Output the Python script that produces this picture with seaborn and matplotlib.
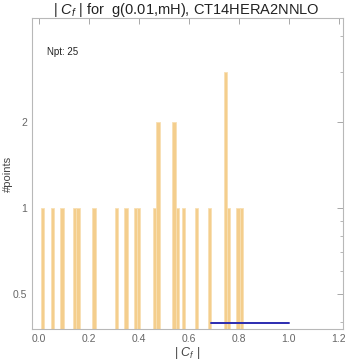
import numpy as np
import pandas as pd
import matplotlib
matplotlib.use("Agg")
import matplotlib.pyplot as plt
import seaborn as sns
from matplotlib.ticker import FixedLocator, NullFormatter

# ---- data ----
cf_values = [0.019, 0.056, 0.093, 0.138, 0.159, 0.222, 0.314, 0.350,
             0.386, 0.399, 0.458, 0.471, 0.471, 0.540, 0.540, 0.553,
             0.578, 0.634, 0.681, 0.744, 0.744, 0.744, 0.757, 0.791, 0.816]
blue_x = [0.69, 1.0]
blue_y = [0.395, 0.395]
yticks = [0.5, 1, 2]
ytick_labels = ["0.5", "1", "2"]
xticks = [0.0, 0.2, 0.4, 0.6, 0.8, 1.0, 1.2]
xtick_labels = ["0.0", "0.2", "0.4", "0.6", "0.8", "1.0", "1.2"]
title = "| $C_f$ | for  g(0.01,mH), CT14HERA2NNLO"
npt_text = "Npt: 25"

sns.set_theme(style="white")
plt.rcParams["font.family"] = ["Liberation Sans", "DejaVu Sans"]
plt.rcParams["mathtext.fontset"] = "custom"
plt.rcParams["mathtext.rm"] = "Liberation Sans"
plt.rcParams["mathtext.it"] = "Liberation Sans:italic"

df = pd.DataFrame({"cf": cf_values})

fig = plt.figure(figsize=(3.45, 3.6), dpi=100)
ax = fig.add_axes([0.093, 0.086, 0.901, 0.864])

sns.histplot(data=df, x="cf", binwidth=0.0128, binrange=(0.0098, 0.8418),
             color="#f2c271", alpha=0.8, edgecolor="#f8e0b4", linewidth=0.6,
             ax=ax)
ax.set_yscale("log")
ax.plot(blue_x, blue_y, color="#2b2bb0", linewidth=1.4)

ax.set_xlim(-0.027, 1.217)
ax.set_ylim(0.377, 4.63)

ax.yaxis.set_major_locator(FixedLocator(yticks))
ax.set_yticklabels(ytick_labels)
ax.yaxis.set_minor_locator(FixedLocator([0.4, 0.6, 0.7, 0.8, 0.9, 3, 4]))
ax.yaxis.set_minor_formatter(NullFormatter())
ax.set_xticks(xticks)
ax.set_xticklabels(xtick_labels)

gray = "#9a9a9a"
for s in ax.spines.values():
    s.set_color("#b8b8b8")
    s.set_linewidth(0.8)
ax.tick_params(which="both", direction="in", top=True, right=True,
               colors=gray, labelcolor="#666666", labelsize=7.5)
ax.tick_params(which="major", length=4, width=0.6)
ax.tick_params(which="minor", length=2, width=0.5)

ax.set_xlabel("| $C_f$ |", fontsize=9, color="#444444", va="center")
ax.xaxis.set_label_coords(0.5, -0.077)
ax.set_ylabel("#points", fontsize=8, color="#444444", va="center")
ax.yaxis.set_label_coords(-0.077, 0.5)
fig.text(0.54, 0.972, title, fontsize=10.5, color="#222222",
         ha="center", va="center")
ax.text(0.047, 0.89, npt_text, transform=ax.transAxes, fontsize=7,
        color="#222222", va="center", ha="left")

fig.savefig("out.png", dpi=100)
